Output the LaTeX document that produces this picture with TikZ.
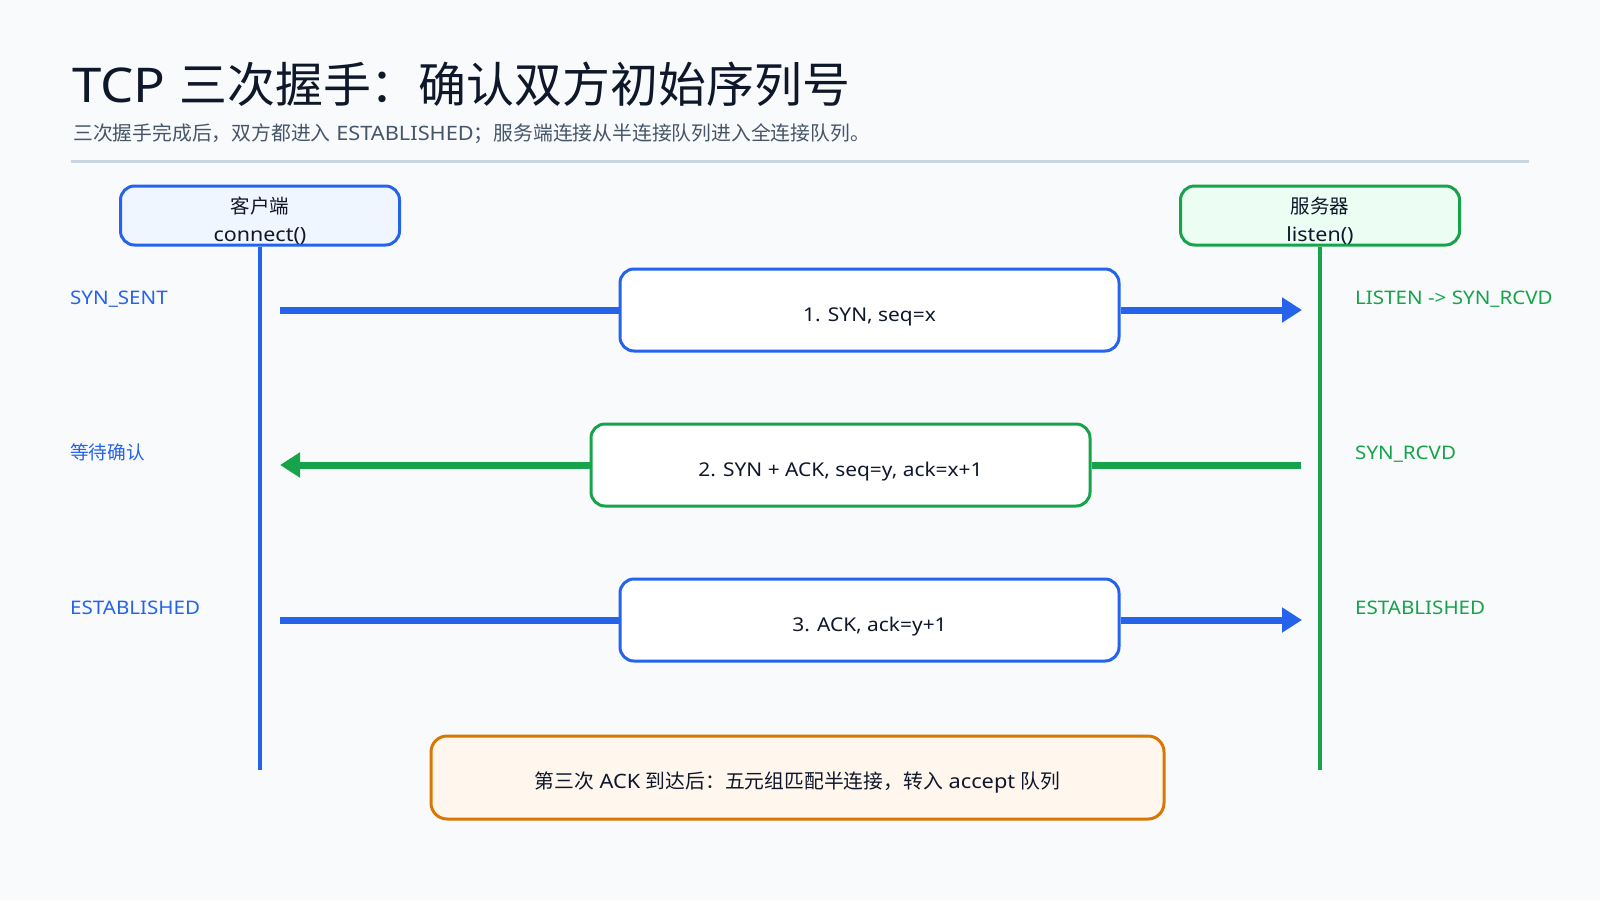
\documentclass[tikz,border=0pt]{standalone}
\usepackage{fontspec}
\setmainfont{Noto Sans}[FakeStretch=1.1]
\newfontfamily\cjk{Noto Sans CJK SC}
\usetikzlibrary{arrows.meta}
\definecolor{bg}{HTML}{F8FAFC}
\definecolor{ink}{HTML}{0F172A}
\definecolor{sub}{HTML}{475569}
\definecolor{rule}{HTML}{CBD5E1}
\definecolor{cblue}{HTML}{2563EB}
\definecolor{cgreen}{HTML}{16A34A}
\definecolor{corange}{HTML}{D97706}
\definecolor{fblue}{HTML}{EFF6FF}
\definecolor{fgreen}{HTML}{ECFDF3}
\definecolor{forange}{HTML}{FFF7ED}
\begin{document}
\begin{tikzpicture}[x=1pt,y=-1pt,
  actor/.style={draw, line width=3pt, rounded corners=14pt, minimum width=279pt, minimum height=59pt, inner sep=0pt},
  actortext/.style={anchor=base, inner sep=0pt, text=ink, font=\fontsize{19.5}{24}\selectfont},
  msg/.style={draw, fill=white, line width=3pt, rounded corners=14pt, minimum width=499pt, minimum height=82pt, inner sep=0pt},
  msgtext/.style={anchor=base, inner sep=0pt, text=ink, font=\fontsize{19}{24}\selectfont},
  life/.style={line width=4.5pt},
  arr/.style={line width=7pt},
  tip/.style={-{Triangle[length=20pt,width=24pt]}},
  state/.style={anchor=base west, inner sep=0pt, font=\fontsize{18.7}{24}\selectfont}
]
\fill[bg] (0,0) rectangle (1600,900);
\useasboundingbox (0,0) rectangle (1600,900);
% title
\node[anchor=base west, inner sep=0pt, text=ink, font=\fontsize{47.9}{60}\selectfont] (title) at (72,102) {TCP {\cjk 三次握手：确认双方初始序列号}};
\node[anchor=base west, inner sep=0pt, text=sub, font=\fontsize{19.8}{24}\selectfont] (subtitle) at (73,140) {{\cjk 三次握手完成后，双方都进入} ESTABLISHED{\cjk ；服务端连接从半连接队列进入全连接队列。}};
\draw[rule, line width=3pt] (71,161) -- (1529,161);
% actors
\node[actor, fill=fblue, draw=cblue] (client) at (260,215.5) {};
\node[actortext] (clientname) at (260,213) {\cjk 客户端};
\node[actortext] (clientcall) at (260,241) {connect()};
\node[actor, fill=fgreen, draw=cgreen] (server) at (1320,215.5) {};
\node[actortext] (servername) at (1320,213) {\cjk 服务器};
\node[actortext] (servercall) at (1320,241) {listen()};
\coordinate (cend) at (260,770);
\coordinate (send) at (1320,770);
\draw[life, cblue] (client.south) -- (cend);
\draw[life, cgreen] (server.south) -- (send);
% states
\node[state, text=cblue] (l1) at (70,304) {SYN\_SENT};
\node[state, text=cblue] (l2) at (70,459) {\cjk 等待确认};
\node[state, text=cblue] (l3) at (70,614) {ESTABLISHED};
\node[state, text=cgreen] (r1) at (1355,304) {LISTEN -{}> SYN\_RCVD};
\node[state, text=cgreen] (r2) at (1355,459) {SYN\_RCVD};
\node[state, text=cgreen] (r3) at (1355,614) {ESTABLISHED};
% messages
\node[msg, draw=cblue] (m1) at (869.5,310) {};
\node[msgtext] (m1text) at (869.5,321) {1. SYN, seq=x};
\node[msg, draw=cgreen] (m2) at (840.5,465) {};
\node[msgtext] (m2text) at (840.5,476) {2. SYN + ACK, seq=y, ack=x+1};
\node[msg, draw=cblue] (m3) at (869.5,620) {};
\node[msgtext] (m3text) at (869.5,631) {3. ACK, ack=y+1};
\coordinate (a1s) at (280,310); \coordinate (a1e) at (1302,310);
\coordinate (a2s) at (1301,465); \coordinate (a2e) at (280,465);
\coordinate (a3s) at (280,620); \coordinate (a3e) at (1302,620);
\draw[arr, cblue] (a1s) -- (m1.west);
\draw[arr, cblue, tip] (m1.east) -- (a1e);
\draw[arr, cgreen] (a2s) -- (m2.east);
\draw[arr, cgreen, tip] (m2.west) -- (a2e);
\draw[arr, cblue] (a3s) -- (m3.west);
\draw[arr, cblue, tip] (m3.east) -- (a3e);
% note
\node[draw=corange, fill=forange, line width=3pt, rounded corners=16pt, minimum width=733pt, minimum height=83pt, inner sep=0pt] (note) at (797.5,777.5) {};
\node[anchor=base, inner sep=0pt, text=ink, font=\fontsize{19.8}{24}\selectfont] (notetext) at (797.5,788) {{\cjk 第三次} ACK {\cjk 到达后：五元组匹配半连接，转入} accept {\cjk 队列}};
\end{tikzpicture}
\end{document}
